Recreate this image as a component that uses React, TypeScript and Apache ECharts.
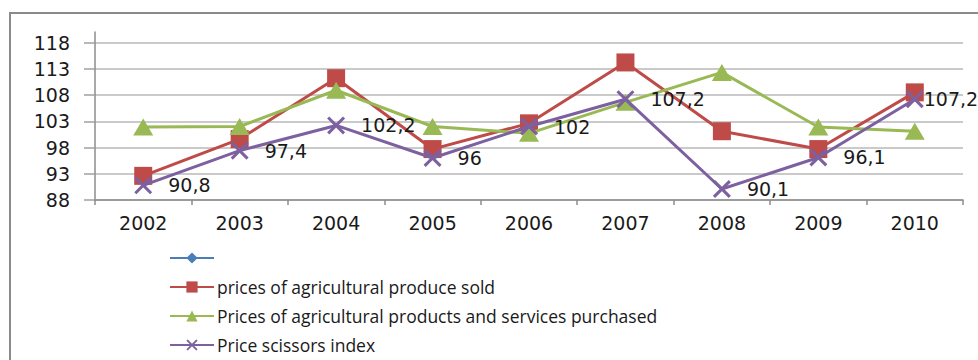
import React, { useEffect, useRef } from "react";
import * as echarts from "echarts";

const categories = ["2002", "2003", "2004", "2005", "2006", "2007", "2008", "2009", "2010"];
const soldPrices = [92.6, 99.6, 111.2, 97.7, 102.6, 114.2, 101.1, 97.7, 108.5];
const purchasedPrices = [101.9, 102.0, 108.9, 102.0, 100.7, 106.6, 112.3, 101.9, 101.1];
const scissorsIndex = [90.8, 97.4, 102.2, 96, 102, 107.2, 90.1, 96.1, 107.2];
const yTicks = [88, 93, 98, 103, 108, 113, 118];

const seriesNames = [
  " ",
  "prices of agricultural produce sold",
  "Prices of agricultural products and services purchased",
  "Price scissors index",
];

const X_SYMBOL = "path://M0,1.2L1.2,0L10,8.8L8.8,10Z M8.8,0L10,1.2L1.2,10L0,8.8Z";

export default function App() {
  const ref = useRef<HTMLDivElement>(null);
  useEffect(() => {
    if (!ref.current) return;
    const chart = echarts.init(ref.current, undefined, { renderer: "svg" });
    const axisFont = { fontFamily: "DejaVu Sans", fontSize: 19, color: "#1a1a1a" };
    chart.setOption({
      animation: false,
      backgroundColor: "#ffffff",
      graphic: [
        {
          type: "rect",
          shape: { x: 10, y: 13, width: 1000, height: 400 },
          style: { fill: "none", stroke: "#8a8a8a", lineWidth: 2 },
          silent: true,
        },
      ],
      grid: { left: 95, right: 15, top: 32, bottom: 160, containLabel: false },
      legend: seriesNames.map((name, i) => ({
        type: "plain",
        orient: "vertical",
        left: 169,
        top: 249 + i * 29,
        padding: 0,
        itemWidth: 44,
        itemHeight: 14,
        data: [name],
        textStyle: {
          fontFamily: "Open Sans",
          fontSize: 17.5,
          color: "#1a1a1a",
          padding: [0, 0, 0, -2],
        },
      })),
      xAxis: {
        type: "category",
        data: categories,
        boundaryGap: true,
        axisLine: { lineStyle: { color: "#8c8c8c", width: 1.5 } },
        axisTick: { show: true, length: 5, lineStyle: { color: "#8c8c8c", width: 1.5 } },
        axisLabel: { ...axisFont, margin: 13 },
        splitLine: { show: false },
      },
      yAxis: {
        type: "value",
        min: 88,
        max: 120,
        axisLine: { show: true, lineStyle: { color: "#8c8c8c", width: 1.5 } },
        axisTick: { show: true, length: 11, customValues: yTicks, lineStyle: { color: "#a0a0a0", width: 1.5 } },
        axisLabel: { ...axisFont, margin: 25, customValues: yTicks },
        splitLine: { show: true, lineStyle: { color: "#b8b8b8", width: 1.5 } },
      },
      series: [
        {
          name: seriesNames[0],
          type: "line",
          data: [],
          symbol: "diamond",
          symbolSize: 10,
          itemStyle: { color: "#4a7ebb" },
          lineStyle: { color: "#4a7ebb", width: 3 },
        },
        {
          name: seriesNames[1],
          type: "line",
          data: soldPrices,
          symbol: "rect",
          symbolSize: 18,
          itemStyle: { color: "#be4b48" },
          lineStyle: { color: "#be4b48", width: 3 },
          z: 2,
        },
        {
          name: seriesNames[2],
          type: "line",
          data: purchasedPrices,
          symbol: "triangle",
          symbolSize: [20, 17],
          itemStyle: { color: "#98b954" },
          lineStyle: { color: "#98b954", width: 3 },
          z: 3,
        },
        {
          name: seriesNames[3],
          type: "line",
          data: scissorsIndex.map((v, i) =>
            i === scissorsIndex.length - 1
              ? { value: v, label: { distance: 0 } }
              : v
          ),
          symbol: X_SYMBOL,
          symbolSize: 18,
          itemStyle: { color: "#7d60a0" },
          lineStyle: { color: "#7d60a0", width: 3 },
          z: 4,
          label: {
            show: true,
            position: "right",
            distance: 16,
            fontFamily: "DejaVu Sans",
            fontSize: 19,
            color: "#1a1a1a",
            formatter: (p: any) => String(p.value).replace(".", ","),
          },
        },
      ],
    });
    return () => chart.dispose();
  }, []);
  return <div ref={ref} style={{ width: 978, height: 360, position: "absolute", left: 0, top: 0 }} />;
}
